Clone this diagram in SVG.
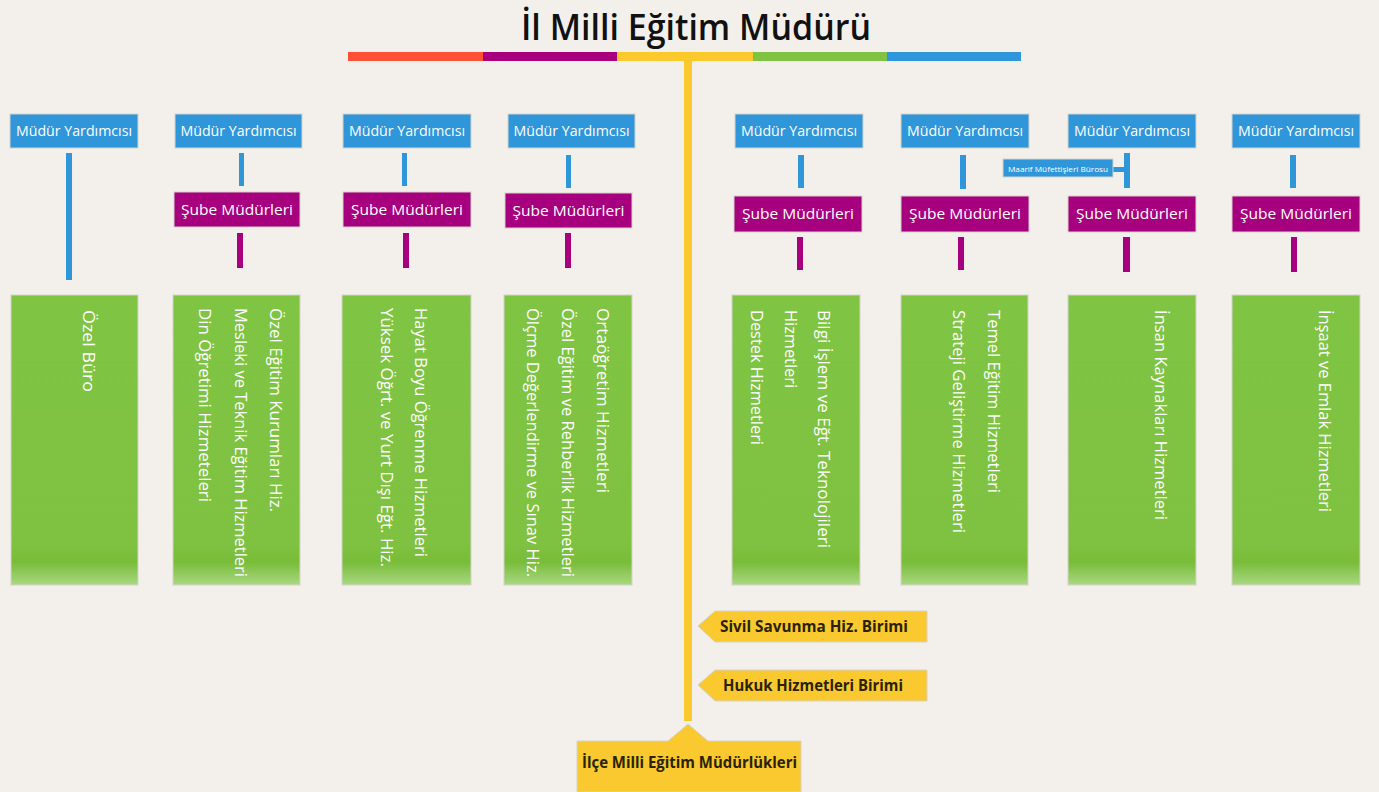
<svg xmlns="http://www.w3.org/2000/svg" width="1379" height="792" viewBox="0 0 1379 792">
<defs>
<linearGradient id="gGreen" x1="0" y1="0" x2="0" y2="1">
<stop offset="0" stop-color="#80C444"/>
<stop offset="0.86" stop-color="#7FC242"/>
<stop offset="0.92" stop-color="#78BC38"/>
<stop offset="1" stop-color="#A9D882"/>
</linearGradient>
<style>
.bg{fill:#F3F0EB}
.blue{fill:#2F96DA}
.purple{fill:#A6007F}
.yellow{fill:#F9C92F}
.green{fill:url(#gGreen);stroke:#D6D2CB;stroke-width:1}
.bx{stroke:#D6D2CB;stroke-width:1}
.wt{fill:#FFFFFF;font-family:"Open Sans","Liberation Sans",sans-serif;font-size:14px;text-anchor:middle}
.vt{fill:#FFFFFF;font-family:"Open Sans","Liberation Sans",sans-serif;font-size:16px}
.yt{fill:#2A2200;font-family:"Open Sans","Liberation Sans",sans-serif;font-size:16px;font-weight:bold}
.title{fill:#111111;font-family:"Open Sans","Liberation Sans",sans-serif;font-size:36px;font-weight:600;text-anchor:middle}
</style>
</defs>
<rect class="bg" x="0" y="0" width="1379" height="792"/>

<g id="title">
<text class="title" x="696" y="40" textLength="350" lengthAdjust="spacingAndGlyphs">İl Milli Eğitim Müdürü</text>
<rect x="348" y="52" width="135" height="9" fill="#FF5135"/>
<rect x="483" y="52" width="134" height="9" fill="#A8007F"/>
<rect x="617" y="52" width="136" height="9" fill="#FCC92D"/>
<rect x="753" y="52" width="134" height="9" fill="#80C242"/>
<rect x="887" y="52" width="134" height="9" fill="#2E96DB"/>
</g>

<g id="connectors">
<rect class="yellow" x="684" y="61" width="8" height="660"/>
<rect class="blue" x="66" y="153" width="6" height="127"/>
<rect class="blue" x="239" y="153" width="5" height="33"/>
<rect class="blue" x="402" y="153" width="5" height="33"/>
<rect class="blue" x="566" y="155" width="5" height="33"/>
<rect class="blue" x="798" y="155" width="6" height="33"/>
<rect class="blue" x="960" y="155" width="6" height="34"/>
<rect class="blue" x="1124" y="153" width="6" height="35"/>
<rect class="blue" x="1113" y="167" width="12" height="5"/>
<rect class="blue" x="1290" y="155" width="6" height="33"/>
<rect class="purple" x="237" y="233" width="6" height="35"/>
<rect class="purple" x="403" y="233" width="6" height="35"/>
<rect class="purple" x="565" y="233" width="6" height="35"/>
<rect class="purple" x="797" y="237" width="6" height="33"/>
<rect class="purple" x="958" y="237" width="6" height="33"/>
<rect class="purple" x="1123" y="237" width="7" height="35"/>
<rect class="purple" x="1291" y="237" width="6" height="35"/>
</g>

<g id="my1"><rect class="blue bx" x="10" y="114" width="128" height="34"/><text class="wt" x="74" y="136" textLength="116" lengthAdjust="spacingAndGlyphs">Müdür Yardımcısı</text></g>
<g id="my2"><rect class="blue bx" x="175" y="114" width="127" height="34"/><text class="wt" x="238.5" y="136" textLength="116" lengthAdjust="spacingAndGlyphs">Müdür Yardımcısı</text></g>
<g id="my3"><rect class="blue bx" x="343" y="114" width="128" height="34"/><text class="wt" x="407" y="136" textLength="116" lengthAdjust="spacingAndGlyphs">Müdür Yardımcısı</text></g>
<g id="my4"><rect class="blue bx" x="508" y="114" width="127" height="34"/><text class="wt" x="571.5" y="136" textLength="116" lengthAdjust="spacingAndGlyphs">Müdür Yardımcısı</text></g>
<g id="my5"><rect class="blue bx" x="735" y="114" width="128" height="34"/><text class="wt" x="799" y="136" textLength="116" lengthAdjust="spacingAndGlyphs">Müdür Yardımcısı</text></g>
<g id="my6"><rect class="blue bx" x="901" y="114" width="128" height="34"/><text class="wt" x="965" y="136" textLength="116" lengthAdjust="spacingAndGlyphs">Müdür Yardımcısı</text></g>
<g id="my7"><rect class="blue bx" x="1068" y="114" width="128" height="34"/><text class="wt" x="1132" y="136" textLength="116" lengthAdjust="spacingAndGlyphs">Müdür Yardımcısı</text></g>
<g id="my8"><rect class="blue bx" x="1232" y="114" width="128" height="34"/><text class="wt" x="1296" y="136" textLength="116" lengthAdjust="spacingAndGlyphs">Müdür Yardımcısı</text></g>

<g id="maarif"><rect class="blue bx" x="1003" y="159" width="110" height="18"/><text class="wt" x="1058" y="171.5" style="font-size:8px" textLength="100" lengthAdjust="spacingAndGlyphs">Maarif Müfettişleri Bürosu</text></g>

<g id="sm2"><rect class="purple bx" x="174" y="192" width="126" height="35"/><text class="wt" x="237" y="214.5" textLength="112" lengthAdjust="spacingAndGlyphs">Şube Müdürleri</text></g>
<g id="sm3"><rect class="purple bx" x="343" y="192" width="128" height="35"/><text class="wt" x="407" y="214.5" textLength="112" lengthAdjust="spacingAndGlyphs">Şube Müdürleri</text></g>
<g id="sm4"><rect class="purple bx" x="505" y="193" width="127" height="35"/><text class="wt" x="568.5" y="215.5" textLength="112" lengthAdjust="spacingAndGlyphs">Şube Müdürleri</text></g>
<g id="sm5"><rect class="purple bx" x="734" y="196" width="128" height="36"/><text class="wt" x="798" y="219" textLength="112" lengthAdjust="spacingAndGlyphs">Şube Müdürleri</text></g>
<g id="sm6"><rect class="purple bx" x="901" y="196" width="128" height="36"/><text class="wt" x="965" y="219" textLength="112" lengthAdjust="spacingAndGlyphs">Şube Müdürleri</text></g>
<g id="sm7"><rect class="purple bx" x="1068" y="196" width="128" height="36"/><text class="wt" x="1132" y="219" textLength="112" lengthAdjust="spacingAndGlyphs">Şube Müdürleri</text></g>
<g id="sm8"><rect class="purple bx" x="1232" y="196" width="128" height="36"/><text class="wt" x="1296" y="219" textLength="112" lengthAdjust="spacingAndGlyphs">Şube Müdürleri</text></g>

<g id="g1"><rect class="green" x="11" y="295" width="127" height="290"/>
<text class="vt" transform="translate(83,310) rotate(90)" textLength="82" lengthAdjust="spacingAndGlyphs">Özel Büro</text></g>
<g id="g2"><rect class="green" x="173" y="295" width="127" height="290"/>
<text class="vt" transform="translate(270,308) rotate(90)" textLength="204" lengthAdjust="spacingAndGlyphs">Özel Eğitim Kurumları Hiz.</text>
<text class="vt" transform="translate(235,308) rotate(90)" textLength="269" lengthAdjust="spacingAndGlyphs">Mesleki ve Teknik Eğitim Hizmetleri</text>
<text class="vt" transform="translate(199,308) rotate(90)" textLength="194" lengthAdjust="spacingAndGlyphs">Din Öğretimi Hizmeteleri</text></g>
<g id="g3"><rect class="green" x="342" y="295" width="129" height="290"/>
<text class="vt" transform="translate(415,308) rotate(90)" textLength="249" lengthAdjust="spacingAndGlyphs">Hayat Boyu Öğrenme Hizmetleri</text>
<text class="vt" transform="translate(381,308) rotate(90)" textLength="259" lengthAdjust="spacingAndGlyphs">Yüksek Öğrt. ve Yurt Dışı Eğt. Hiz.</text></g>
<g id="g4"><rect class="green" x="504" y="295" width="128" height="290"/>
<text class="vt" transform="translate(597,308) rotate(90)" textLength="185" lengthAdjust="spacingAndGlyphs">Ortaöğretim Hizmetleri</text>
<text class="vt" transform="translate(562,308) rotate(90)" textLength="269" lengthAdjust="spacingAndGlyphs">Özel Eğitim ve Rehberlik Hizmetleri</text>
<text class="vt" transform="translate(527,308) rotate(90)" textLength="269" lengthAdjust="spacingAndGlyphs">Ölçme Değerlendirme ve Sınav Hiz.</text></g>
<g id="g5"><rect class="green" x="732" y="295" width="128" height="290"/>
<text class="vt" transform="translate(818,310) rotate(90)" textLength="238" lengthAdjust="spacingAndGlyphs">Bilgi İşlem ve Eğt. Teknolojileri</text>
<text class="vt" transform="translate(785,310) rotate(90)" textLength="78" lengthAdjust="spacingAndGlyphs">Hizmetleri</text>
<text class="vt" transform="translate(751,310) rotate(90)" textLength="135" lengthAdjust="spacingAndGlyphs">Destek Hizmetleri</text></g>
<g id="g6"><rect class="green" x="901" y="295" width="127" height="290"/>
<text class="vt" transform="translate(988,310) rotate(90)" textLength="183" lengthAdjust="spacingAndGlyphs">Temel Eğitim Hizmetleri</text>
<text class="vt" transform="translate(953,310) rotate(90)" textLength="223" lengthAdjust="spacingAndGlyphs">Strateji Geliştirme Hizmetleri</text></g>
<g id="g7"><rect class="green" x="1068" y="295" width="128" height="290"/>
<text class="vt" transform="translate(1155,310) rotate(90)" textLength="210" lengthAdjust="spacingAndGlyphs">İnsan Kaynakları Hizmetleri</text></g>
<g id="g8"><rect class="green" x="1232" y="295" width="128" height="290"/>
<text class="vt" transform="translate(1319,310) rotate(90)" textLength="202" lengthAdjust="spacingAndGlyphs">İnşaat ve Emlak Hizmetleri</text></g>

<g id="sivil"><polygon class="yellow bx" points="698,626 715,611 927,611 927,642 715,642"/>
<text class="yt" x="720" y="632" textLength="188" lengthAdjust="spacingAndGlyphs">Sivil Savunma Hiz. Birimi</text></g>
<g id="hukuk"><polygon class="yellow bx" points="698,685 715,670 927,670 927,701 715,701"/>
<text class="yt" x="723" y="691" textLength="180" lengthAdjust="spacingAndGlyphs">Hukuk Hizmetleri Birimi</text></g>
<g id="ilce"><polygon class="yellow bx" points="688,724 708,741 801,741 801,792 577,792 577,741 668,741"/>
<text class="yt" x="582" y="768" textLength="215" lengthAdjust="spacingAndGlyphs">İlçe Milli Eğitim Müdürlükleri</text></g>
</svg>
